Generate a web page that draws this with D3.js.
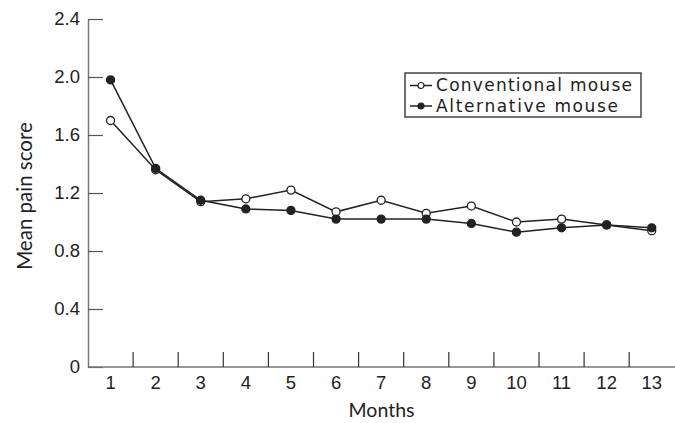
<!DOCTYPE html>
<html>
<head>
<meta charset="utf-8">
<script src="https://cdn.jsdelivr.net/npm/d3@7"></script>
<style>
  body { margin: 0; background: #fff; }
  svg { display: block; font-family: Lato, "Noto Sans", sans-serif; }
</style>
</head>
<body>
<div id="chart"></div>
<script>
const months = [1, 2, 3, 4, 5, 6, 7, 8, 9, 10, 11, 12, 13];
const conventional = [1.70, 1.36, 1.14, 1.16, 1.22, 1.07, 1.15, 1.06, 1.11, 1.00, 1.02, 0.98, 0.94];
const alternative = [1.98, 1.37, 1.15, 1.09, 1.08, 1.02, 1.02, 1.02, 0.99, 0.93, 0.96, 0.98, 0.96];
const yTicks = [0, 0.4, 0.8, 1.2, 1.6, 2.0, 2.4];
const seriesNames = ["Conventional mouse", "Alternative mouse"];

const width = 675, height = 423;
const margin = {top: 19, right: 0, bottom: 56, left: 88};

const svg = d3.select("#chart").append("svg")
  .attr("width", width)
  .attr("height", height);

const x = d3.scaleBand().domain(months).range([margin.left, margin.left + 13 * 45.1]);
const y = d3.scaleLinear().domain([0, 2.4]).range([height - margin.bottom, margin.top]);

// y axis, ticks point inward
const gY = svg.append("g")
  .attr("transform", "translate(" + margin.left + ",0)")
  .call(d3.axisLeft(y).tickValues(yTicks).tickSizeInner(-15).tickSizeOuter(0).tickPadding(8)
    .tickFormat(d => d === 0 ? "0" : d3.format(".1f")(d)));
gY.select(".domain").attr("stroke", "#777").attr("stroke-width", 1.5);
gY.selectAll(".tick line").attr("stroke", "#555").attr("stroke-width", 1.2);
gY.selectAll(".tick text").attr("font-size", 18.5).attr("fill", "#222");

// x axis: labels centred in bands, ticks at band edges
const gX = svg.append("g")
  .attr("transform", "translate(0," + y(0) + ")")
  .call(d3.axisBottom(x).tickSize(0).tickPadding(9));
gX.select(".domain").attr("d", "M" + margin.left + ",0H" + width).attr("stroke", "#777").attr("stroke-width", 1.5);
gX.selectAll(".tick text").attr("font-size", 18.5).attr("fill", "#222");
gX.selectAll("line.edge")
  .data(months.slice(0, -1))
  .join("line")
  .attr("class", "edge")
  .attr("x1", d => x(d) + x.step())
  .attr("x2", d => x(d) + x.step())
  .attr("y1", 0)
  .attr("y2", -15)
  .attr("stroke", "#333")
  .attr("stroke-width", 1.2);

// axis titles
svg.append("text")
  .attr("x", (margin.left + width) / 2)
  .attr("y", 417)
  .attr("text-anchor", "middle")
  .attr("font-size", 19.5)
  .attr("fill", "#222")
  .text("Months");
svg.append("text")
  .attr("transform", "translate(32,196) rotate(-90)")
  .attr("text-anchor", "middle")
  .attr("font-size", 20.5)
  .attr("fill", "#222")
  .text("Mean pain score");

// lines and markers
const line = d3.line().x((d, i) => x(months[i]) + x.bandwidth() / 2).y(d => y(d));
const series = [
  {name: seriesNames[0], values: conventional, fill: "#fff", len: 196},
  {name: seriesNames[1], values: alternative, fill: "#222", len: 182}
];

series.forEach(s => {
  svg.append("path")
    .datum(s.values)
    .attr("fill", "none")
    .attr("stroke", "#222")
    .attr("stroke-width", 1.5)
    .attr("d", line);
});
series.forEach(s => {
  svg.append("g").selectAll("circle")
    .data(s.values)
    .join("circle")
    .attr("cx", (d, i) => x(months[i]) + x.bandwidth() / 2)
    .attr("cy", d => y(d))
    .attr("r", 4)
    .attr("fill", s.fill)
    .attr("stroke", "#222")
    .attr("stroke-width", 1.3);
});

// legend
const legend = svg.append("g").attr("transform", "translate(405,73)");
legend.append("rect")
  .attr("width", 236)
  .attr("height", 44)
  .attr("fill", "#fff")
  .attr("stroke", "#444")
  .attr("stroke-width", 1.5);
series.forEach((s, i) => {
  const row = legend.append("g").attr("transform", "translate(0," + (12.5 + i * 20.5) + ")");
  row.append("line").attr("x1", 5).attr("x2", 27).attr("stroke", "#222").attr("stroke-width", 1.5);
  row.append("circle").attr("cx", 16).attr("r", 3).attr("fill", s.fill).attr("stroke", "#222").attr("stroke-width", 1.2);
  row.append("text")
    .attr("x", 31)
    .attr("dy", "0.35em")
    .attr("font-family", "'DejaVu Sans', sans-serif")
    .attr("font-size", 17)
    .attr("textLength", s.len)
    .attr("lengthAdjust", "spacing")
    .attr("fill", "#222")
    .text(s.name);
});
</script>
</body>
</html>
